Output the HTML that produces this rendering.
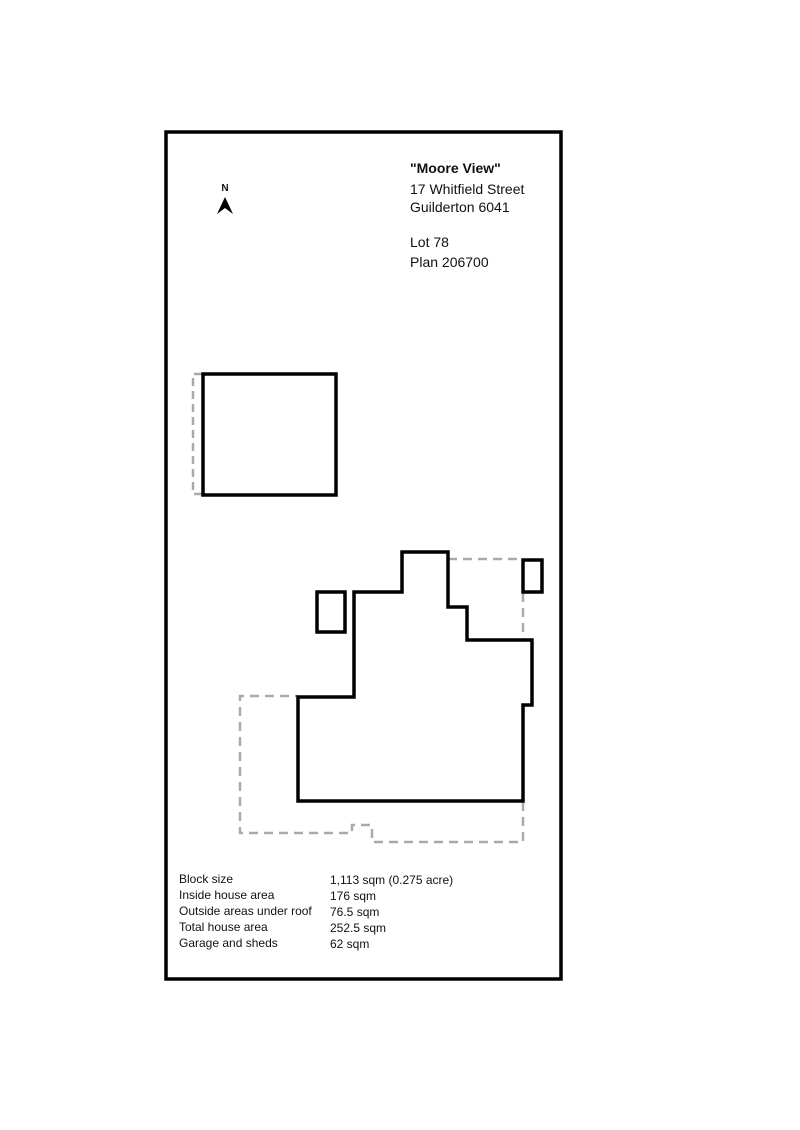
<!DOCTYPE html>
<html><head><meta charset="utf-8"><style>
html,body{margin:0;padding:0;background:#fff;}
svg{display:block;}
text{font-family:"Liberation Sans",sans-serif;fill:#111;}
</style></head><body>
<svg width="800" height="1130" viewBox="0 0 800 1130" xmlns="http://www.w3.org/2000/svg">
<rect x="166" y="132" width="395" height="847" fill="none" stroke="#000" stroke-width="3.5"/>
<!-- North -->
<text x="225" y="191" font-size="10" font-weight="bold" text-anchor="middle">N</text>
<polygon points="225,197 217,214 225,208 233,214" fill="#000"/>
<!-- address -->
<text x="410" y="173" font-size="14" font-weight="bold">"Moore View"</text>
<text x="410" y="194" font-size="14">17 Whitfield Street</text>
<text x="410" y="212" font-size="14">Guilderton 6041</text>
<text x="410" y="247" font-size="14">Lot 78</text>
<text x="410" y="267" font-size="14">Plan 206700</text>
<!-- garage -->
<polyline points="202,374 193,374 193,494 202,494" fill="none" stroke="#aaa" stroke-width="2.5" stroke-dasharray="8,5"/>
<rect x="203" y="374" width="133" height="121" fill="none" stroke="#000" stroke-width="3.5"/>
<!-- dashed outdoor -->
<g fill="none" stroke="#aaa" stroke-width="2.5" stroke-dasharray="9,6">
<polyline points="448,559 523,559"/>
<polyline points="523,593 523,640"/>
<polyline points="523,802 523,842 372,842 372,825 352,825 352,833 240,833 240,696 298,696"/>
</g>
<!-- house -->
<polygon points="298,697 354,697 354,592 402,592 402,552 448,552 448,607 467,607 467,640 532,640 532,705 523,705 523,801 298,801" fill="none" stroke="#000" stroke-width="3.5"/>
<rect x="317" y="592" width="28" height="40" fill="none" stroke="#000" stroke-width="3.5"/>
<rect x="523" y="560" width="19" height="32" fill="none" stroke="#000" stroke-width="3.5"/>
<!-- stats -->
<g font-size="12">
<text x="179" y="883">Block size</text>
<text x="179" y="899">Inside house area</text>
<text x="179" y="915">Outside areas under roof</text>
<text x="179" y="931">Total house area</text>
<text x="179" y="947">Garage and sheds</text>
<text x="330" y="884">1,113 sqm (0.275 acre)</text>
<text x="330" y="900">176 sqm</text>
<text x="330" y="916">76.5 sqm</text>
<text x="330" y="932">252.5 sqm</text>
<text x="330" y="948">62 sqm</text>
</g>
</svg>
</body></html>
